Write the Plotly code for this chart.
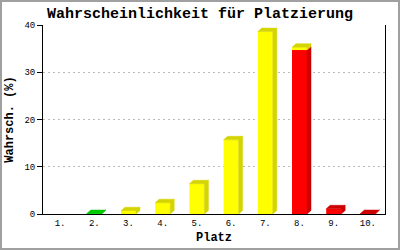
import plotly.graph_objects as go

# ---- data ----
places = [1, 2, 3, 4, 5, 6, 7, 8, 9, 10]
place_labels = ["1.", "2.", "3.", "4.", "5.", "6.", "7.", "8.", "9.", "10."]
green_vals = [0, 0.1, 0, 0, 0, 0, 0, 0, 0, 0]
red_vals = [0, 0, 0, 0, 0, 0, 0, 34.7, 1.1, 0.1]
yellow_vals = [0, 0, 0.7, 2.4, 6.4, 15.7, 38.6, 0.6, 0, 0]
y_ticks = [0, 10, 20, 30, 40]

# ---- styling ----
W, H = 400, 250
ML, MR, MT, MB = 43, 15, 25, 36
plot_w = W - ML - MR
plot_h = H - MT - MB
x_range = [0.5, 10.5]
y_range = [0, 40]
DX = 4.0 * (x_range[1] - x_range[0]) / plot_w      # 3D depth in data units
DY = 3.5 * (y_range[1] - y_range[0]) / plot_h
BAR_W = 15.0 * (x_range[1] - x_range[0]) / plot_w
MONO = "Liberation Mono"

series = [
    ("green", green_vals, "#00FF00", "#00C800"),
    ("red", red_vals, "#FF0000", "#CC0000"),
    ("yellow", yellow_vals, "#FFFF00", "#D4D400"),
]

totals = [sum(s[1][i] for s in series) for i in range(len(places))]

fig = go.Figure()
bases = [0.0] * len(places)
for name, vals, front, dark in series:
    px, py = [], []
    for i, (p, v) in enumerate(zip(places, vals)):
        if v <= 0:
            continue
        b = bases[i]
        t = b + v
        x0 = p - BAR_W / 2
        x1 = p + BAR_W / 2
        # side face
        px += [x1, x1 + DX, x1 + DX, x1, x1, None]
        py += [b, b + DY, t + DY, t, b, None]
        # top face if this segment is the topmost one
        if abs(t - totals[i]) < 1e-9:
            px += [x0, x0 + DX, x1 + DX, x1, x0, None]
            py += [t, t + DY, t + DY, t, t, None]
    fig.add_trace(go.Scatter(x=px, y=py, fill="toself", fillcolor=dark,
                             mode="lines", line=dict(width=0.5, color=dark),
                             hoverinfo="skip", showlegend=False))
    fig.add_trace(go.Bar(x=places, y=vals, base=list(bases), width=BAR_W,
                         marker=dict(color=front, line=dict(width=0)),
                         name=name, showlegend=False))
    bases = [bases[i] + vals[i] for i in range(len(places))]

# outer gray border (paper coordinates extended to full figure)
fx0 = -ML / plot_w
fx1 = 1 + MR / plot_w
fy0 = -MB / plot_h
fy1 = 1 + MT / plot_h
fig.add_shape(type="rect", xref="paper", yref="paper",
              x0=fx0 + 1 / plot_w, x1=fx1 - 1 / plot_w,
              y0=fy0 + 1 / plot_h, y1=fy1 - 1 / plot_h,
              line=dict(color="#A0A0A0", width=2), layer="above")

fig.update_layout(
    width=W, height=H,
    margin=dict(l=ML, r=MR, t=MT, b=MB, pad=0, autoexpand=False),
    paper_bgcolor="white", plot_bgcolor="white",
    barmode="overlay",
    title=dict(text="Wahrscheinlichkeit für Platzierung",
               font=dict(family=MONO, size=15, color="black", weight="bold"),
               x=0.5, xanchor="center", xref="container",
               y=1 - 13 / H, yanchor="middle", yref="container",
               automargin=False),
    xaxis=dict(range=x_range, tickmode="array", tickvals=places, ticktext=place_labels,
               showgrid=False, zeroline=False, showline=True, linecolor="black",
               linewidth=1, ticks="", mirror=False, automargin=False,
               tickfont=dict(family=MONO, size=9, color="black"),
               title=dict(text="Platz", standoff=4,
                          font=dict(family=MONO, size=12, color="black", weight="bold"))),
    yaxis=dict(range=y_range, tickmode="array", tickvals=y_ticks,
               showgrid=True, gridcolor="#BBBBBB", griddash="2px,3px", gridwidth=1,
               zeroline=False, showline=True, linecolor="black", linewidth=1,
               mirror=True, ticks="outside", ticklen=5, tickcolor="black",
               automargin=False,
               tickfont=dict(family=MONO, size=9, color="black"),
               title=dict(text="Wahrsch. (%)", standoff=8,
                          font=dict(family=MONO, size=12, color="black", weight="bold"))),
)

fig.write_html("out.html")
